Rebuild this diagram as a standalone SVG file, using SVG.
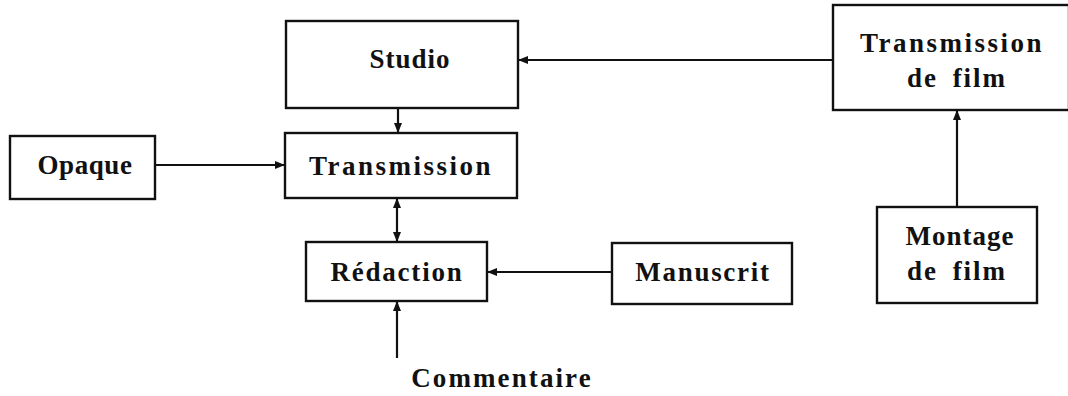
<svg xmlns="http://www.w3.org/2000/svg" width="1068" height="396" viewBox="0 0 1068 396">
<style>
.box{fill:none;stroke:#111;stroke-width:2.4}
.ln{fill:none;stroke:#111;stroke-width:2.2}
text{font-family:"Liberation Serif","Times New Roman",serif;font-size:27px;font-weight:bold;fill:#111;text-anchor:middle}
</style>
<defs>
<marker id="ah" markerWidth="10" markerHeight="8" refX="9" refY="4" orient="auto" markerUnits="userSpaceOnUse">
<path d="M0,0 L10,4 L0,8 z" fill="#111"/>
</marker>
<marker id="as" markerWidth="10" markerHeight="8" refX="1" refY="4" orient="auto" markerUnits="userSpaceOnUse">
<path d="M10,0 L0,4 L10,8 z" fill="#111"/>
</marker>
</defs>
<rect width="1068" height="396" fill="#fff"/>
<g id="connectors">
<line class="ln" x1="398" y1="108" x2="398" y2="132" marker-end="url(#ah)"/>
<line class="ln" x1="156" y1="165" x2="284" y2="165" marker-end="url(#ah)"/>
<line class="ln" x1="397" y1="199" x2="397" y2="241" marker-start="url(#as)" marker-end="url(#ah)"/>
<line class="ln" x1="612" y1="272" x2="488" y2="272" marker-end="url(#ah)"/>
<line class="ln" x1="397" y1="358" x2="397" y2="302" marker-end="url(#ah)"/>
<line class="ln" x1="833" y1="60" x2="519" y2="60" marker-end="url(#ah)"/>
<line class="ln" x1="957" y1="207" x2="957" y2="111" marker-end="url(#ah)"/>
</g>
<g id="studio"><rect class="box" x="286" y="21" width="232" height="87"/><text x="410" y="68" letter-spacing="1">Studio</text></g>
<g id="transmission"><rect class="box" x="285" y="133" width="232" height="65"/><text x="401" y="175" letter-spacing="2.5">Transmission</text></g>
<g id="opaque"><rect class="box" x="10" y="136" width="145" height="63"/><text x="85" y="174" letter-spacing="0.6">Opaque</text></g>
<g id="redaction"><rect class="box" x="306" y="242" width="181" height="59"/><text x="397" y="281" letter-spacing="1.8">Rédaction</text></g>
<g id="manuscrit"><rect class="box" x="612" y="243" width="180" height="61"/><text x="703" y="281" letter-spacing="1.7">Manuscrit</text></g>
<g id="transmission-film"><rect class="box" x="833" y="5" width="236" height="105"/><text x="952" y="52" letter-spacing="2.5">Transmission</text><text x="957" y="87" letter-spacing="2" word-spacing="6">de film</text></g>
<g id="montage"><rect class="box" x="877" y="207" width="160" height="96"/><text x="960" y="245" letter-spacing="1">Montage</text><text x="957" y="280" letter-spacing="2" word-spacing="6">de film</text></g>
<g id="commentaire"><text x="502" y="387" letter-spacing="2.1">Commentaire</text></g>
</svg>
